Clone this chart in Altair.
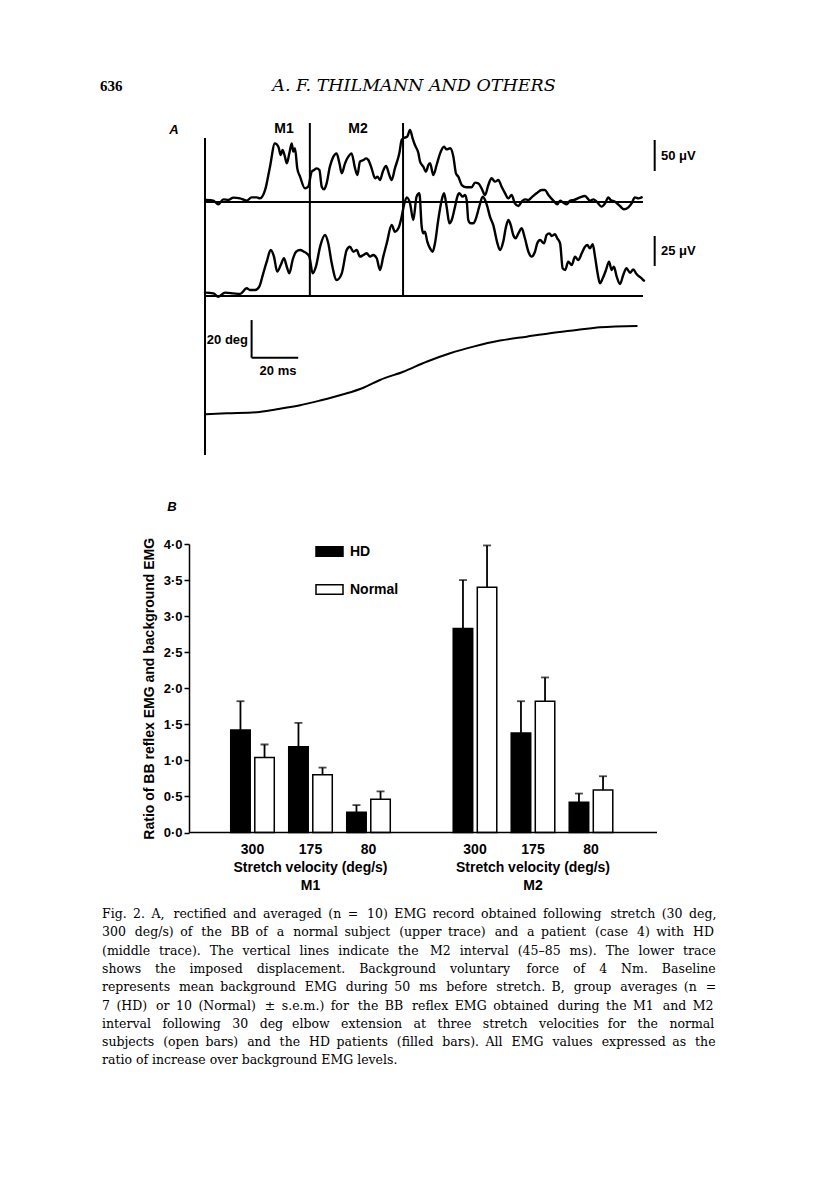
import altair as alt
import pandas as pd

# ---------------- Panel A: EMG traces (time in ms, amplitude in µV) ----------------
upper_t = [0.7, 3.6, 5.7, 7.9, 10.0, 12.2, 15.0, 17.9, 20.0, 22.2, 23.6, 25.8, 27.9, 30.0, 31.5,
           32.5, 33.3, 34.3, 35.1, 36.2, 37.2, 37.9, 38.6, 39.6, 40.8, 42.9, 44.3, 45.8, 46.8, 47.9,
           49.1, 50.1, 51.1, 52.2, 53.6, 55.1, 56.5, 57.7, 58.7, 60.1, 61.5, 62.9, 64.4, 65.4, 66.5,
           68.0, 69.1, 70.1, 71.5, 73.0, 74.0, 75.1, 76.3, 77.7, 79.1, 80.1, 81.5, 83.4, 84.4, 85.1,
           86.8, 88.0, 89.1, 90.1, 91.6,
           92.3, 93.7, 94.8, 95.9, 96.6, 98.0, 99.4, 100.9, 102.6, 103.7, 105.2, 106.6, 107.7, 108.7,
           110.2, 112.3, 114.4, 115.9, 117.3, 118.7, 120.2, 121.6, 123.0, 124.5, 125.9, 127.3, 128.8,
           130.2, 131.6, 133.0, 134.5, 135.9, 137.3, 138.8, 140.2, 142.3, 144.5, 145.9, 147.4, 149.5,
           151.2, 152.4, 153.8, 155.2, 156.7, 158.4, 160.9, 163.1, 165.2, 166.7, 168.1, 170.2, 171.7,
           173.1, 174.1, 176.0, 178.1, 179.8, 181.7, 183.1, 184.5, 186.0, 187.4]
upper_uv = [3.2, 2.2, -3.8, 4.3, 3.2, 7.0, 5.9, 2.2, 7.5, 7.5, 5.9, 19.4, 57.0, 94.6, 89.2,
            75.8, 83.9, 73.1, 62.4, 78.5, 94.6, 81.2, 86.6, 54.3, 40.9, 22.0, 24.7, 48.9, 51.6, 54.3,
            51.6, 24.7, 20.4, 30.1, 57.0, 73.1, 78.5, 62.4, 46.2, 62.4, 73.1, 78.5, 54.3, 43.5, 65.1,
            67.7, 70.4, 67.7, 54.3, 38.2, 40.9, 35.5, 48.9, 58.1, 43.5, 35.5, 54.3, 78.5, 100.0, 102.7,
            105.4, 116.1, 102.7, 91.9, 78.5,
            65.1, 57.0, 48.9, 59.7, 62.4, 43.5, 59.7, 78.5, 89.2, 84.9, 86.6, 73.1, 46.2, 40.9,
            27.4, 23.7, 23.7, 31.2, 30.1, 22.0, 11.3, 27.4, 38.2, 32.8, 35.5, 24.7, 14.0,
            5.9, 11.3, -2.2, -6.5, 0.5, 4.3, 3.2, 7.5, 14.0, 19.4, 19.4, 11.3, 2.2,
            -3.8, 2.2, -1.1, -3.8, 2.2, 3.2, 7.5, 9.7, 2.2, 4.3, 0.5, -7.5, -2.2,
            7.5, 3.2, 0.5, -6.5, -11.8, -8.6, -2.2, 7.5, 5.9, 7.5]

lower_t = [0.0, 3.6, 5.7, 8.6, 12.2, 15.0, 17.9, 19.3, 21.5, 23.3, 25.0, 26.5, 28.2, 29.6, 31.0,
           32.5, 33.9, 35.1, 36.2, 37.6, 39.1, 40.8, 42.5, 43.6, 44.8, 46.2, 47.6, 49.4, 51.5, 52.9,
           54.4, 56.5, 58.7, 60.8, 62.2, 63.7, 65.1, 66.5, 68.0, 69.4, 70.8, 72.2, 73.7, 75.1, 76.5,
           78.0, 80.1, 81.5, 83.0, 84.4, 85.4, 86.6, 88.0, 89.4, 90.8, 92.0,
           93.0, 93.7, 94.4, 95.4, 96.6, 97.7, 98.7, 100.1, 101.6, 102.6, 103.7, 104.9, 105.9, 107.3,
           108.3, 109.1, 110.6, 111.6, 112.3, 113.0, 114.0, 115.2, 116.3, 117.7, 119.2, 120.2, 121.2,
           122.3, 123.7, 125.5, 126.6, 128.0, 129.2, 130.2, 131.2, 132.3, 133.3, 134.5, 135.9, 137.3,
           138.8, 140.2, 141.6, 142.6, 143.8, 145.5, 146.6, 147.8, 148.8, 150.2, 151.2, 152.4, 153.5,
           154.6, 155.9, 157.4, 158.8, 160.2, 161.7, 163.1, 164.1, 165.2, 166.4, 167.4, 168.5, 169.5,
           170.7, 172.1, 173.4, 174.5, 175.5, 176.7, 178.1, 179.5, 180.9, 182.4, 183.8, 185.2, 187.4,
           188.4]
lower_uv = [2.8, 2.2, -0.6, 2.8, 2.2, 1.7, 6.4, 5.0, 5.0, 7.8, 18.9, 28.6, 38.3, 32.8, 20.3,
            25.8, 31.4, 24.4, 18.9, 30.0, 36.9, 38.3, 36.9, 35.6, 32.8, 18.9, 24.4, 41.1, 50.8, 43.9,
            27.2, 13.3, 18.9, 38.3, 41.1, 36.9, 38.3, 32.8, 34.2, 35.6, 32.8, 34.2, 31.4, 21.7, 32.8,
            43.9, 59.2, 53.6, 56.4, 66.1, 75.8, 82.2, 77.2, 63.3, 82.8, 85.6,
            57.8, 52.2, 53.6, 45.3, 39.7, 36.9, 43.9, 63.3, 80.0, 85.6, 74.4, 60.6, 63.3, 74.4,
            82.8, 85.6, 82.8, 84.2, 80.0, 63.3, 60.6, 60.6, 64.7, 74.4, 82.8, 80.0, 74.4,
            66.1, 59.2, 43.9, 38.3, 45.3, 57.8, 63.3, 59.2, 50.8, 48.1, 52.2, 56.4, 48.1,
            36.9, 32.8, 36.9, 43.9, 46.7, 43.9, 50.8, 52.2, 50.0, 51.4, 48.1, 43.9, 23.1,
            21.7, 28.6, 25.8, 32.8, 30.0, 35.6, 41.1, 42.5, 39.7, 43.1, 32.8, 18.9, 10.6,
            14.7, 21.7, 28.6, 21.7, 24.4, 16.1, 10.0, 17.5, 23.1, 19.4, 22.2, 18.3, 14.7,
            12.8]

disp_t = [0.3, 9.3, 22.2, 30.8, 40.8, 49.4, 59.4, 68.0, 75.1, 85.1, 95.1, 105.2, 115.2, 126.6,
          138.1, 148.1, 159.5, 169.5, 185.3]
disp_deg = [0.0, 0.5, 1.1, 2.7, 4.8, 7.3, 10.6, 14.1, 18.2, 22.6, 27.9, 32.4, 35.9, 39.1,
            41.2, 43.0, 44.7, 46.2, 46.9]

m2_interval = [45, 85]          # ms
trace_end = 188                 # ms

# ---------------- Panel B: group averages ----------------
velocities = ["300", "175", "80"]
groups = ["HD", "Normal"]
m1_hd = [1.42, 1.19, 0.28]
m1_hd_sem = [0.40, 0.33, 0.10]
m1_normal = [1.04, 0.80, 0.46]
m1_normal_sem = [0.18, 0.10, 0.11]
m2_hd = [2.83, 1.38, 0.42]
m2_hd_sem = [0.67, 0.44, 0.12]
m2_normal = [3.40, 1.82, 0.59]
m2_normal_sem = [0.58, 0.33, 0.19]
y_ticks = [0.0, 0.5, 1.0, 1.5, 2.0, 2.5, 3.0, 3.5, 4.0]

caption_lines = [
    "Fig. 2. A, rectified and averaged (n = 10) EMG record obtained following stretch (30 deg,",
    "300 deg/s) of the BB of a normal subject (upper trace) and a patient (case 4) with HD",
    "(middle trace). The vertical lines indicate the M2 interval (45–85 ms). The lower trace",
    "shows the imposed displacement. Background voluntary force of 4 Nm. Baseline",
    "represents mean background EMG during 50 ms before stretch. B, group averages (n =",
    "7 (HD) or 10 (Normal) ± s.e.m.) for the BB reflex EMG obtained during the M1 and M2",
    "interval following 30 deg elbow extension at three stretch velocities for the normal",
    "subjects (open bars) and the HD patients (filled bars). All EMG values expressed as the",
    "ratio of increase over background EMG levels.",
]
# extra thin spaces per caption line, to imitate the justified setting of the print
justify_thin_spaces = [18, 28, 27, 41, 22, 23, 34, 24, 0]


def justify(line, n_extra):
    words = line.split(" ")
    gaps = len(words) - 1
    if gaps <= 0 or n_extra <= 0:
        return line
    out, acc = words[0], 0.0
    per = n_extra / gaps
    for w in words[1:]:
        acc += per
        k = int(round(acc))
        acc -= k
        out += " " + "\u2009" * k + w
    return out


def P(v):
    """page pixel -> chart pixel (the page has an 8px margin)"""
    return v - 8


SANS = "Liberation Sans"
SERIF = "DejaVu Serif"
one = pd.DataFrame({"k": [0]})


def label(text, x, y, **kw):
    opts = dict(font=SANS, fontSize=14, fontWeight="bold", color="black",
                align="center", baseline="middle")
    opts.update(kw)
    return alt.Chart(one).mark_text(**opts).encode(
        x=alt.value(x), y=alt.value(y), text=alt.value(text))


layers = []

# ---------------- header ----------------
layers.append(label("636", P(100), P(91), font="Liberation Serif", fontSize=15,
                    align="left", baseline="alphabetic"))
layers.append(label("A. F. THILMANN AND OTHERS", P(414), P(91), font=SERIF, fontSize=17.5,
                    fontStyle="italic", fontWeight="normal", baseline="alphabetic"))

# ---------------- panel A ----------------
x_time = alt.Scale(domain=[0, 100], range=[P(205), P(438)], nice=False, zero=False)
y_up = alt.Scale(domain=[0, 50], range=[P(202), P(171)], nice=False, zero=False)
y_lo = alt.Scale(domain=[0, 25], range=[P(296), P(266)], nice=False, zero=False)
y_deg = alt.Scale(domain=[0, 20], range=[P(414.3), P(376.6)], nice=False, zero=False)


def trace(ts, vs, ys, width=2.4):
    return alt.Chart(pd.DataFrame({"t": ts, "v": vs})).mark_line(
        color="black", strokeWidth=width, interpolate="monotone", strokeJoin="round",
        strokeCap="round").encode(
        x=alt.X("t:Q", scale=x_time, axis=None),
        y=alt.Y("v:Q", scale=ys, axis=None))


layers += [trace(upper_t, upper_uv, y_up), trace(lower_t, lower_uv, y_lo),
           trace(disp_t, disp_deg, y_deg, 2.0)]


def hrule(t0, t1, v, ys, w=2.0):
    return alt.Chart(pd.DataFrame({"t0": [t0], "t1": [t1], "v": [v]})).mark_rule(
        color="black", strokeWidth=w).encode(
        x=alt.X("t0:Q", scale=x_time, axis=None), x2="t1:Q",
        y=alt.Y("v:Q", scale=ys, axis=None))


def vrule(t, a, b, ys, w=2.0):
    return alt.Chart(pd.DataFrame({"t": [t], "a": [a], "b": [b]})).mark_rule(
        color="black", strokeWidth=w).encode(
        x=alt.X("t:Q", scale=x_time, axis=None),
        y=alt.Y("a:Q", scale=ys, axis=None), y2="b:Q")


# baselines (mean background EMG)
layers += [hrule(0, trace_end, 0, y_up), hrule(0, trace_end, 0, y_lo)]
# stretch onset line
layers.append(alt.Chart(pd.DataFrame({"t": [0]})).mark_rule(color="black", strokeWidth=2).encode(
    x=alt.X("t:Q", scale=x_time, axis=None), y=alt.value(P(138)), y2=alt.value(P(455))))
# M2 interval lines
layers.append(alt.Chart(pd.DataFrame({"t": m2_interval})).mark_rule(color="black", strokeWidth=2).encode(
    x=alt.X("t:Q", scale=x_time, axis=None), y=alt.value(P(123)), y2=alt.value(P(296))))
# calibration bars
layers += [vrule(193, 50, 100, y_up), vrule(193, 25, 50, y_lo),
           vrule(20, 30, 50, y_deg), hrule(20, 40, 30, y_deg)]

layers += [
    label("A", P(174), P(130), fontStyle="italic", fontSize=13),
    label("M1", P(284), P(129)),
    label("M2", P(358), P(129)),
    label("50 μV", P(661), P(155.5), align="left", fontSize=13),
    label("25 μV", P(661), P(251), align="left", fontSize=13),
    label("20 deg", P(248), P(340), align="right", fontSize=13),
    label("20 ms", P(278), P(371), fontSize=13),
]

# ---------------- panel B ----------------
y_ratio = alt.Scale(domain=[0, 4], range=[P(832.5), P(544)], nice=False, zero=False)
x_m1 = alt.Scale(domain=velocities, range=[P(223.5), P(397.5)], paddingInner=0, paddingOuter=0)
x_m2 = alt.Scale(domain=velocities, range=[P(446), P(620)], paddingInner=0, paddingOuter=0)
off_scale = alt.Scale(domain=groups, paddingInner=0.19, paddingOuter=0.3)
fill_scale = alt.Scale(domain=groups, range=["black", "white"])

legend = alt.Legend(
    title=None, orient="none", legendX=P(315), legendY=P(537), direction="vertical",
    symbolType="M-1,-0.36L1,-0.36L1,0.36L-1,0.36Z", symbolSize=729,
    symbolStrokeColor="black", symbolStrokeWidth=1.5,
    labelFont=SANS, labelFontSize=14, labelFontWeight="bold", labelColor="black",
    labelOffset=6, rowPadding=15, padding=0)

y_axis = alt.Axis(
    orient="left", offset=-P(189), values=y_ticks,
    labelExpr="replace(format(datum.value, '.1f'), '.', '·')",
    tickSize=5, tickWidth=1.5, tickColor="black", domainColor="black", domainWidth=1.5,
    labelFont=SANS, labelFontSize=13, labelFontWeight="bold", labelColor="black", labelPadding=2,
    title="Ratio of BB reflex EMG and background EMG", titleFont=SANS, titleFontSize=14,
    titleFontWeight="bold", titleColor="black", titlePadding=7, grid=False)


def bar_table(hd, hd_sem, nm, nm_sem):
    rows = []
    for i, v in enumerate(velocities):
        rows.append({"vel": v, "group": "HD", "mean": hd[i], "upper": hd[i] + hd_sem[i]})
        rows.append({"vel": v, "group": "Normal", "mean": nm[i], "upper": nm[i] + nm_sem[i]})
    return pd.DataFrame(rows)


def bar_panel(df, xs, axis, name):
    base = alt.Chart(df).encode(
        x=alt.X("vel:N", scale=xs, axis=None, sort=velocities),
        xOffset=alt.XOffset("group:N", scale=off_scale, sort=groups))
    err = base.mark_rule(color="black", strokeWidth=1.8).encode(
        y=alt.Y("mean:Q", scale=y_ratio, axis=None), y2="upper:Q")
    cap = base.mark_tick(color="black", thickness=1.8, size=8, orient="horizontal").encode(
        y=alt.Y("upper:Q", scale=y_ratio, axis=None))
    bars = base.mark_bar(stroke="black", strokeWidth=1.5).encode(
        y=alt.Y("mean:Q", scale=y_ratio, axis=axis),
        fill=alt.Fill("group:N", scale=fill_scale, legend=legend))
    lab = alt.Chart(pd.DataFrame({"vel": velocities})).mark_text(
        font=SANS, fontSize=14, fontWeight="bold", color="black", baseline="middle").encode(
        x=alt.X("vel:N", scale=xs, axis=None, sort=velocities), y=alt.value(P(850)), text="vel:N")
    mid = pd.DataFrame({"vel": [velocities[1]]})
    t1 = alt.Chart(mid).mark_text(font=SANS, fontSize=14, fontWeight="bold", color="black",
                                  baseline="middle").encode(
        x=alt.X("vel:N", scale=xs, axis=None), y=alt.value(P(868)),
        text=alt.value("Stretch velocity (deg/s)"))
    t2 = alt.Chart(mid).mark_text(font=SANS, fontSize=14, fontWeight="bold", color="black",
                                  baseline="middle").encode(
        x=alt.X("vel:N", scale=xs, axis=None), y=alt.value(P(886)), text=alt.value(name))
    return [err, cap, bars, lab, t1, t2]


layers += bar_panel(bar_table(m1_hd, m1_hd_sem, m1_normal, m1_normal_sem), x_m1, y_axis, "M1")
layers += bar_panel(bar_table(m2_hd, m2_hd_sem, m2_normal, m2_normal_sem), x_m2, None, "M2")

# x baseline of panel B
layers.append(alt.Chart(pd.DataFrame({"v": [0]})).mark_rule(color="black", strokeWidth=1.5).encode(
    y=alt.Y("v:Q", scale=y_ratio, axis=None), x=alt.value(P(189)), x2=alt.value(P(657))))
layers.append(label("B", P(172), P(507), fontStyle="italic", fontSize=13))

# ---------------- caption ----------------
caption_text = [justify(l, n) for l, n in zip(caption_lines, justify_thin_spaces)]
layers.append(alt.Chart(one).mark_text(
    align="left", baseline="alphabetic", font=SERIF, fontSize=12.5, lineHeight=18.3,
    color="black").encode(x=alt.value(P(102)), y=alt.value(P(918)),
                          text=alt.value(caption_text)))

chart = alt.layer(*layers).resolve_scale(
    x="independent", y="independent", xOffset="independent"
).properties(
    width=800, height=1167, padding=0,
    autosize=alt.AutoSizeParams(type="none"), background="white"
).configure_view(stroke=None)

chart.save("out.html", embed_options={"renderer": "svg", "actions": False})
